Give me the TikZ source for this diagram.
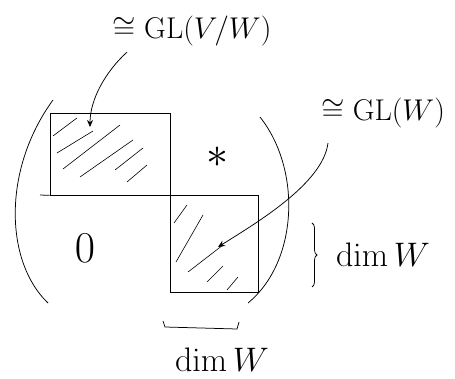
\RequirePackage{fix-cm}
\documentclass[tikz,border=0pt]{standalone}
\usetikzlibrary{arrows.meta,calc,decorations.pathreplacing}
\tikzset{every picture/.style={line width=0.75pt}}
\tikzset{
  block/.style={draw, inner sep=0pt},
  hand/.style={inner sep=0.75pt, font=\fontsize{30}{34}\selectfont},
  dimhand/.style={inner sep=0.75pt, font=\fontsize{34}{38}\selectfont},
  bighand/.style={inner sep=0.75pt, font=\fontsize{44}{48}\selectfont},
  hatch/.style={line width=0.6pt},
  pointer/.style={-{Stealth[length=7pt,width=6pt]}},
  hbrace/.style={decorate, decoration={brace, amplitude=#1}}
}

\begin{document}
\begin{tikzpicture}[x=1pt,y=1pt,yscale=-1,xscale=1]
\useasboundingbox (0,0) rectangle (455,379);

%Shape: Rectangle [upper left block]
\node[block, minimum width=120, minimum height=82] (tl) at (110,154) {};
%Shape: Rectangle [lower right block]
\node[block, minimum width=88, minimum height=97] (br) at (214,243.5) {};
%Straight Lines [middle line, left part]
\draw (40,195) -- (tl.south west);

%Hatching
\foreach \xa/\ya/\xb/\yb in {53/136/77/118, 57/153/93/131, 63/169/120/125,
                             80/177/133/140, 115/170/143/148, 127/182/147/165}
  \draw[hatch] (\xa,\ya) -- (\xb,\yb);
\foreach \xa/\ya/\xb/\yb in {174/223/187/205, 176/262/203/215, 188/272/223/245,
                             207/282/223/266, 227/290/238/277}
  \draw[hatch] (\xa,\ya) -- (\xb,\yb);

% Text Node
\node[bighand] (star) at (217,157) {$\ast$};
% Text Node
\node[bighand] (zero) at (85,248) {$0$};

%Curve Lines [parentheses]
\draw (53,100) .. controls (2,170) and (5,262) .. (48,303);
\draw (260,117) .. controls (302,170) and (298,262) .. (248,303);

% Text Node
\node[hand] (glq) at (192,31) {$\cong\mathrm{GL}(V/W)$};
\coordinate (tlmark) at (90,127);
% Connection
\draw[pointer] ($(glq.south)+(-65,5)$) .. controls +(-22,20) and +(0,-27) .. (tlmark);

% Text Node
\node[hand] (glw) at (383,113) {$\cong\mathrm{GL}(W)$};
\coordinate (brmark) at (218,247);
% Connection
\draw[pointer] ($(glw.south west)+(8,14)$) .. controls +(-5,40) and +(40,-25) .. (brmark);

%Braces
\draw[hbrace=5] (312,223) -- (312,287);
% Text Node
\node[dimhand] (dimr) at (383,255) {$\dim W$};
\draw (163,321) -- (165,327) -- (237,329) -- (239,322);
% Text Node
\node[dimhand] (dimb) at (222,360) {$\dim W$};

\end{tikzpicture}
\end{document}
